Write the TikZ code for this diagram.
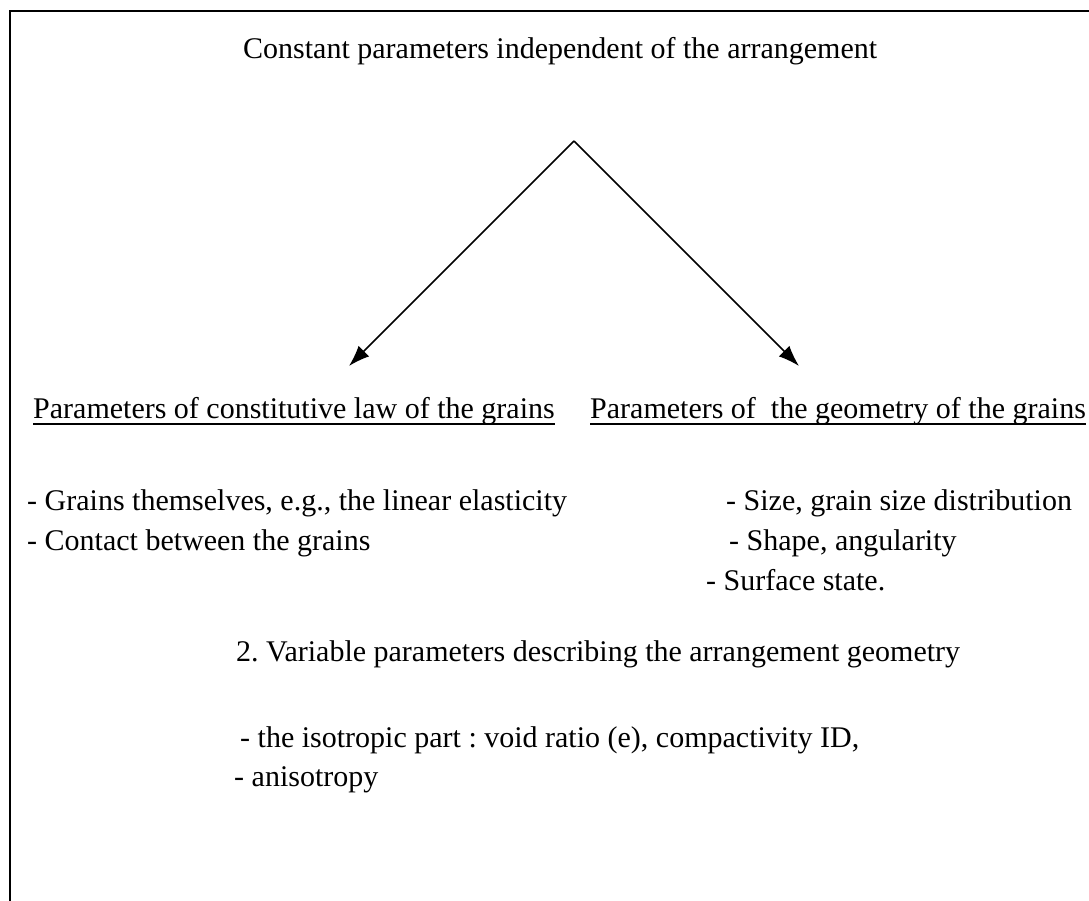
\documentclass[tikz,border=0pt]{standalone}
\usepackage{fontspec}
\setmainfont{Liberation Serif}
\frenchspacing
\usetikzlibrary{arrows.meta,calc}
\tikzset{
  txt/.style={inner sep=0pt, anchor=base west, font=\fontsize{30}{36}\selectfont},
  frameline/.style={line width=1.8pt},
  branch/.style={line width=1.5pt, -{Latex[length=21pt,width=15pt]}},
  uline/.style={line width=1.6pt}
}
\begin{document}
\begin{tikzpicture}[x=1pt,y=-1pt]
\useasboundingbox (0,0) rectangle (1089,901);
% frame (top and left edges)
\coordinate (ftr) at (1089,11);
\coordinate (ftl) at (10,11);
\coordinate (fbl) at (10,901);
\draw[frameline] (ftr) -- (ftl) -- (fbl);
% title
\node[txt] (title) at (243,59) {Constant parameters independent of the arrangement};
% branches
\coordinate (apex) at (574,141);
\coordinate (tipL) at (349,366);
\coordinate (tipR) at (799,366);
\draw[branch] (apex) -- (tipL);
\draw[branch] (apex) -- (tipR);
% headings
\node[txt] (hL) at (33,418) {Parameters of constitutive law of the grains};
\node[txt] (hR) at (590,418) {Parameters of \ the geometry of the grains};
\draw[uline] ($(hL.base west)+(0,6)$) -- ($(hL.base east)+(0,6)$);
\draw[uline] ($(hR.base west)+(0,6)$) -- ($(hR.base east)+(0,6)$);
% left list
\node[txt] (l1) at (27,510) {- Grains themselves, e.g., the linear elasticity};
\node[txt] (l2) at (27,550) {- Contact between the grains};
% right list
\node[txt] (r1) at (726,510) {- Size, grain size distribution};
\node[txt] (r2) at (729,550) {- Shape, angularity};
\node[txt] (r3) at (706,590) {- Surface state.};
% second part
\node[txt] (v) at (236,661) {2. Variable parameters describing the arrangement geometry};
\node[txt] (v1) at (240,747) {- the isotropic part : void ratio (e), compactivity ID,};
\node[txt] (v2) at (234,786) {- anisotropy};
\end{tikzpicture}
\end{document}
